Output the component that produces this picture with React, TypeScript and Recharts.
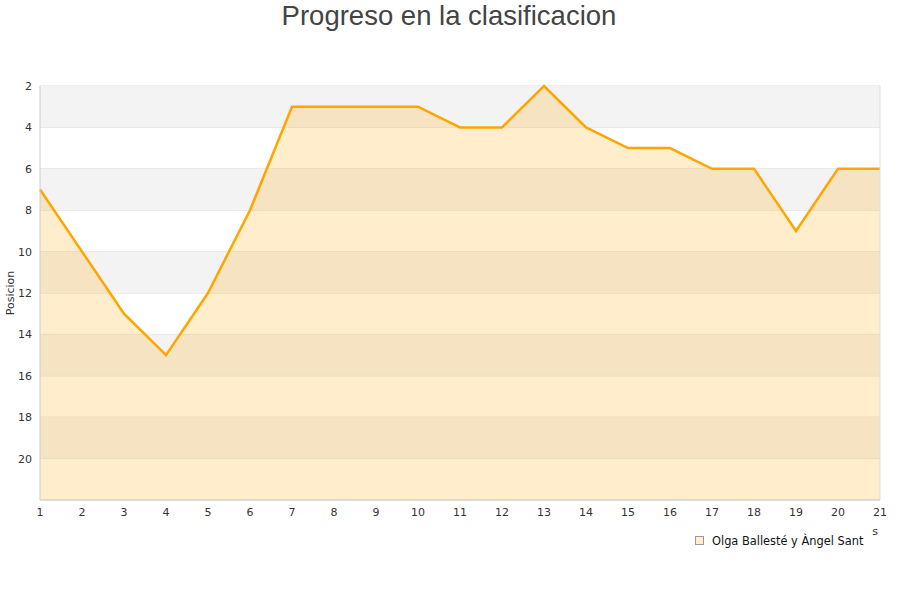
import React from 'react';
import { AreaChart, Area, XAxis, YAxis, CartesianGrid, ReferenceArea, ReferenceLine } from 'recharts';

const jornadas = [1, 2, 3, 4, 5, 6, 7, 8, 9, 10, 11, 12, 13, 14, 15, 16, 17, 18, 19, 20, 21];
const posiciones = [7, 10, 13, 15, 12, 8, 3, 3, 3, 3, 4, 4, 2, 4, 5, 5, 6, 6, 9, 6, 6];
const yTicks = [2, 4, 6, 8, 10, 12, 14, 16, 18, 20];
const grayBands = [[2, 4], [6, 8], [10, 12], [14, 16], [18, 20]];
const title = 'Progreso en la clasificacion';
const yLabel = 'Posicion';
const seriesName = 'Olga Ballesté y Àngel Sant';

const data = jornadas.map((j, i) => ({ jornada: j, pos: posiciones[i] }));

const FONT = 'DejaVu Sans, sans-serif';

export default function App() {
  return (
    <div style={{ position: 'absolute', left: 0, top: 0, width: 900, height: 600, background: '#fff' }}>
      <AreaChart width={900} height={600} data={data} margin={{ top: 86, right: 20, bottom: 70, left: 0 }}>
        {grayBands.map(([a, b]) => (
          <ReferenceArea key={a} y1={a} y2={b} fill="#f3f3f3" fillOpacity={1} stroke="none" ifOverflow="hidden" />
        ))}
        <CartesianGrid vertical={false} stroke="#dddddd" strokeDasharray="" />
        <ReferenceLine x={21} stroke="#dddddd" />
        <XAxis
          dataKey="jornada"
          type="number"
          domain={[1, 21]}
          ticks={jornadas}
          interval={0}
          height={30}
          tickLine={false}
          axisLine={{ stroke: '#cccccc' }}
          tick={{ fontSize: 11, fill: '#333', fontFamily: FONT }}
        />
        <YAxis
          type="number"
          domain={[2, 22]}
          reversed
          ticks={yTicks}
          interval={0}
          width={40}
          tickLine={false}
          axisLine={{ stroke: '#cccccc' }}
          tick={{ fontSize: 11, fill: '#333', fontFamily: FONT }}
        />
        <Area
          type="linear"
          dataKey="pos"
          baseValue={22}
          stroke="#ffa500"
          strokeWidth={2.5}
          fill="#ffa500"
          fillOpacity={0.2}
          dot={false}
          activeDot={false}
          isAnimationActive={false}
        />
      </AreaChart>
      <svg width={900} height={600} style={{ position: 'absolute', left: 0, top: 0, pointerEvents: 'none' }}>
        <text x={449} y={25} textAnchor="middle" fontSize={27.5} fill="#444" fontFamily="Liberation Sans, Arial, sans-serif">{title}</text>
        <text x={14} y={293} transform="rotate(-90 14 293)" textAnchor="middle" fontSize={11} fill="#333" fontFamily={FONT}>{yLabel}</text>
        <text x={875} y={535} textAnchor="middle" fontSize={11} fill="#333" fontFamily={FONT}>s</text>
        <rect x={695.5} y={536.5} width={8} height={8} fill="#ffedcc" stroke="#999" strokeWidth={1} />
        <text x={712} y={545} fontSize={11.4} fill="#111" fontFamily={FONT}>{seriesName}</text>
      </svg>
    </div>
  );
}
